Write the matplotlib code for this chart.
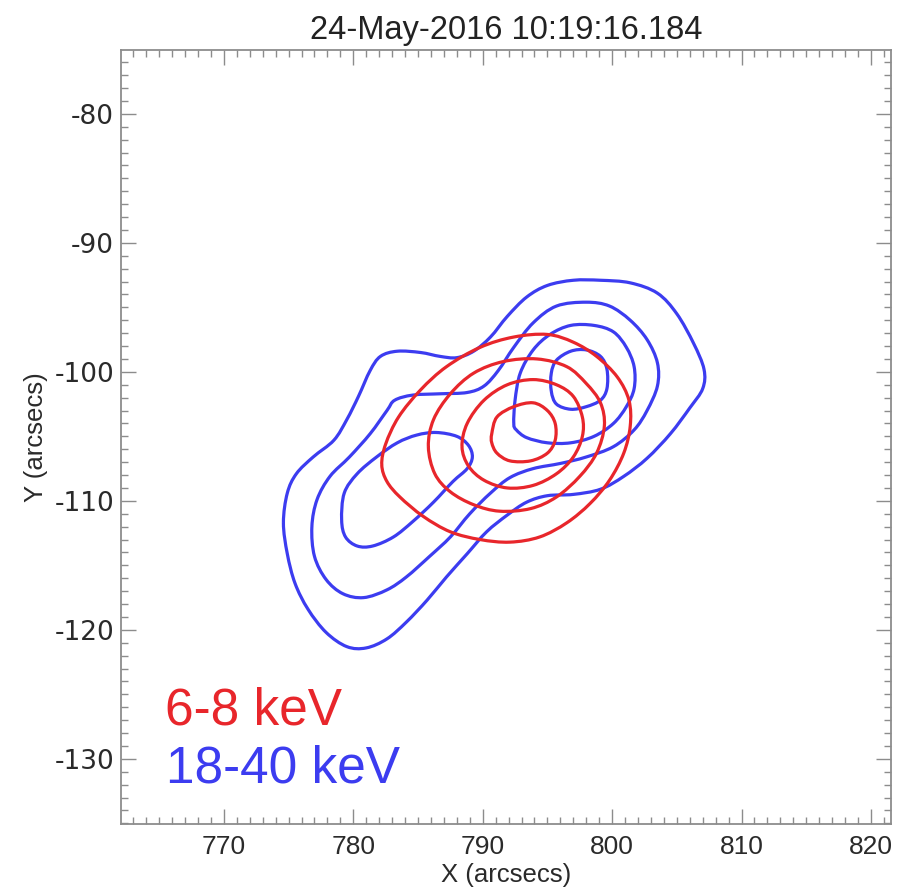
import matplotlib
matplotlib.use('Agg')
import matplotlib.pyplot as plt
from matplotlib.ticker import MultipleLocator
from matplotlib.path import Path
from matplotlib.patches import PathPatch
import numpy as np

# contour outlines, arcsec (solar X, Y), traced round from the left edge
# 18-40 keV, level 1 (outermost) to level 4
hxr1_x = [774.6, 774.9, 775.6, 776.9, 778.5, 779.5, 780.4, 781.3, 782.1, 783.4, 785.2, 786.7,
          788.0, 789.3, 790.6, 791.9, 793.4, 795.0, 797.0, 799.1, 801.4, 803.5, 805.0, 806.3,
          807.1, 807.0, 806.0, 804.5, 802.7, 800.9, 799.1, 797.0, 795.0, 793.4, 791.9, 790.3,
          788.8, 787.2, 785.7, 784.1, 782.6, 781.0, 779.5, 777.9, 776.5, 775.5, 774.9]
hxr1_y = [-111.7, -109.4, -107.9, -106.6, -105.3, -103.7, -101.9, -99.9, -98.8, -98.4, -98.5, -98.8,
          -98.9, -98.4, -97.3, -95.7, -94.2, -93.3, -92.9, -92.9, -93.1, -93.9, -95.5, -97.8,
          -99.8, -101.3, -102.8, -104.8, -106.7, -108.1, -109.1, -109.5, -109.6, -110.1, -111.1, -112.4,
          -114.1, -115.9, -117.7, -119.4, -120.7, -121.4, -121.3, -120.2, -118.4, -116.4, -114.1]

hxr2_x = [776.8, 777.2, 778.2, 779.7, 781.3, 782.6, 783.2, 784.6, 786.7, 788.8, 790.1, 791.2,
          792.4, 793.9, 795.7, 798.0, 799.8, 801.4, 802.7, 803.5, 803.5, 802.7, 801.7, 800.1,
          798.0, 796.0, 793.9, 792.1, 790.6, 789.0, 787.5, 785.9, 784.1, 782.6, 780.8, 779.2,
          777.9, 777.0]
hxr2_y = [-112.0, -109.9, -108.1, -106.6, -104.8, -103.0, -102.2, -101.8, -101.7, -101.6, -101.1, -99.9,
          -98.1, -96.2, -94.9, -94.6, -94.9, -96.0, -97.5, -99.3, -101.1, -103.0, -104.5, -105.8,
          -106.6, -107.1, -107.5, -108.2, -109.4, -111.0, -112.8, -114.3, -115.9, -116.9, -117.5, -117.2,
          -116.1, -114.3]

# level 3 splits into a south-west lobe and the north-east core
hxr3a_x = [779.1, 779.3, 780.3, 781.8, 783.4, 784.9, 786.4, 788.0, 788.9, 789.2, 788.8, 787.7,
           786.2, 784.6, 783.1, 781.5, 780.3, 779.4]
hxr3a_y = [-111.5, -109.4, -107.9, -106.6, -105.5, -104.9, -104.7, -105.0, -105.7, -106.6, -107.5, -108.5,
           -110.1, -111.6, -112.8, -113.5, -113.5, -112.8]

hxr3b_x = [792.4, 792.5, 792.9, 793.9, 795.2, 796.8, 798.6, 800.1, 801.1, 801.7, 801.7, 801.1,
           800.1, 798.6, 796.8, 795.0, 793.4, 792.6]
hxr3b_y = [-104.0, -102.2, -100.1, -98.3, -97.1, -96.4, -96.4, -96.9, -98.1, -99.6, -101.3, -102.7,
           -104.0, -105.0, -105.5, -105.5, -105.1, -104.5]

hxr4_x = [795.3, 795.3, 795.7, 796.8, 798.0, 799.1, 799.6, 799.6, 799.1, 798.0, 796.8, 795.7]
hxr4_y = [-101.5, -100.1, -99.1, -98.4, -98.3, -98.8, -99.8, -101.3, -102.2, -102.7, -102.9, -102.5]

# 6-8 keV, level 1 (outermost) to level 4
th1_x = [782.2, 782.5, 783.5, 785.2, 787.2, 789.8, 792.4, 795.0, 797.0, 798.8, 800.4, 801.3,
         801.4, 800.9, 799.8, 798.3, 796.5, 794.4, 792.1, 789.8, 787.5, 785.4, 783.6, 782.6]
th1_y = [-107.2, -105.6, -103.5, -101.4, -99.6, -98.1, -97.3, -97.1, -97.7, -98.8, -100.4, -102.2,
         -104.2, -106.3, -108.4, -110.2, -111.7, -112.8, -113.2, -113.0, -112.4, -111.2, -109.7, -108.5]

th2_x = [785.8, 786.2, 787.5, 789.3, 791.6, 794.2, 796.5, 798.0, 799.1, 799.4, 798.8, 797.5,
         795.7, 793.7, 791.3, 789.3, 787.5, 786.3]
th2_y = [-105.8, -103.7, -101.7, -100.1, -99.2, -99.0, -99.6, -100.9, -102.4, -104.2, -106.3, -108.1,
         -109.7, -110.6, -110.8, -110.3, -109.3, -107.9]

th3_x = [788.4, 788.8, 790.1, 791.9, 793.9, 795.7, 797.0, 797.7, 797.7, 797.0, 795.7, 793.9,
         791.9, 790.1, 788.9]
th3_y = [-105.8, -104.0, -102.2, -101.0, -100.6, -101.0, -101.9, -103.5, -105.0, -106.6, -107.9, -108.8,
         -109.0, -108.4, -107.3]

th4_x = [790.7, 791.1, 792.4, 793.9, 795.0, 795.6, 795.6, 795.0, 793.7, 792.1, 791.1, 790.7]
th4_y = [-104.8, -103.5, -102.7, -102.4, -103.0, -104.0, -105.3, -106.3, -106.9, -106.9, -106.3, -105.5]

hxr_contours = [(hxr1_x, hxr1_y), (hxr2_x, hxr2_y), (hxr3a_x, hxr3a_y), (hxr3b_x, hxr3b_y), (hxr4_x, hxr4_y)]
th_contours = [(th1_x, th1_y), (th2_x, th2_y), (th3_x, th3_y), (th4_x, th4_y)]

title = '24-May-2016 10:19:16.184'
bands = ['6-8 keV', '18-40 keV']
xlim = (762.05, 821.55)
ylim = (-135.05, -75.05)

red = '#e8262b'
blue = '#3c3cf0'
grey = '#8c8c8c'

matplotlib.rc('font', family=['Liberation Sans', 'DejaVu Sans'])
matplotlib.rc('axes', unicode_minus=False)


def smooth_loop(x, y):
    'closed cubic bezier path through the outline points (catmull-rom handles)'
    p = np.column_stack([x, y])
    n = len(p)
    verts = [p[0]]
    codes = [Path.MOVETO]
    for i in range(n):
        p0, p1, p2, p3 = p[i-1], p[i], p[(i+1) % n], p[(i+2) % n]
        verts += [p1 + (p2 - p0)/6., p2 - (p3 - p1)/6., p2]
        codes += [Path.CURVE4]*3
    return Path(verts, codes)


fig = plt.figure(figsize=(9, 8.92), dpi=100)
ax = fig.add_axes([121/900, 68/892, 770/900, 774/892])

for cx, cy in hxr_contours:
    ax.add_patch(PathPatch(smooth_loop(cx, cy), fill=False, edgecolor=blue, lw=2.3))
for cx, cy in th_contours:
    ax.add_patch(PathPatch(smooth_loop(cx, cy), fill=False, edgecolor=red, lw=2.3))

ax.set_xlim(xlim)
ax.set_ylim(ylim)

ax.xaxis.set_major_locator(MultipleLocator(10))
ax.xaxis.set_minor_locator(MultipleLocator(1))
ax.yaxis.set_major_locator(MultipleLocator(10))
ax.yaxis.set_minor_locator(MultipleLocator(1))
ax.tick_params(which='both', direction='in', top=True, right=True, color=grey, width=1.0)
ax.tick_params(which='major', length=11)
ax.tick_params(which='minor', length=5)
ax.tick_params(axis='x', labelsize=19, pad=8, labelcolor='#2a2a2a')
ax.tick_params(axis='y', labelsize=19, pad=5, labelcolor='#2a2a2a')
for lab in ax.get_yticklabels():
    lab.set_family('DejaVu Sans')
for sp in ax.spines.values():
    sp.set_color(grey)
    sp.set_linewidth(1.3)

ax.set_xlabel('X (arcsecs)', fontsize=18.5, color='#2a2a2a')
ax.set_ylabel('Y (arcsecs)', fontsize=18.5, color='#2a2a2a')
ax.xaxis.set_label_coords(0.5, -0.05)
ax.yaxis.set_label_coords(-0.095, 0.5)
ax.set_title(title, fontsize=23.5, color='#222222', pad=8)

ax.text(0.057, 0.128, bands[0], color=red, fontsize=37, transform=ax.transAxes, va='baseline')
ax.text(0.059, 0.054, bands[1], color=blue, fontsize=37, transform=ax.transAxes, va='baseline')

fig.savefig('out.png', dpi=100)
